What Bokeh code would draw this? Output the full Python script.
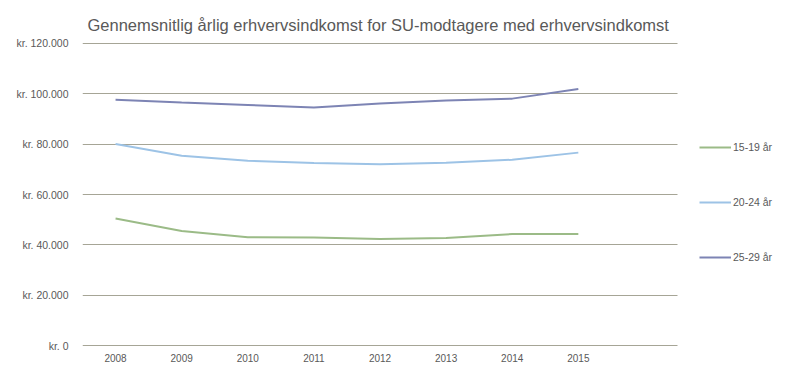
from bokeh.plotting import figure
from bokeh.models import ColumnDataSource, FixedTicker, Legend, LegendItem, Range1d
from bokeh.embed import file_html
from bokeh.resources import INLINE

years = [2008, 2009, 2010, 2011, 2012, 2013, 2014, 2015]
s_15_19 = [50500, 45500, 43100, 43000, 42400, 42800, 44300, 44300]
s_20_24 = [80000, 75400, 73400, 72500, 72000, 72600, 73800, 76600]
s_25_29 = [97600, 96500, 95500, 94500, 96100, 97300, 98000, 101800]
series_names = ["15-19 år", "20-24 år", "25-29 år"]
y_ticks = [0, 20000, 40000, 60000, 80000, 100000, 120000]
y_tick_labels = ["kr. 0", "kr. 20.000", "kr. 40.000", "kr. 60.000", "kr. 80.000", "kr. 100.000", "kr. 120.000"]
title_text = "Gennemsnitlig årlig erhvervsindkomst for SU-modtagere med erhvervsindkomst"

colors = ["#9BBB87", "#9DC3E6", "#7D84B4"]
FONT = "Liberation Sans"
TEXT = "#595959"
GRID = "#A6A596"

# plot area spans 9 year-slots (2008..2016); extra room on the right holds the legend
x_start, x_grid_end = 2007.5, 2016.5
x_end = x_start + 9 * 706 / 595

p = figure(frame_width=706, frame_height=304, output_backend="svg", toolbar_location=None,
           x_range=Range1d(x_start, x_end), y_range=Range1d(-250, 120250),
           min_border_left=82, min_border_right=4, min_border_top=42, min_border_bottom=30)
p.outline_line_color = None
p.background_fill_color = "white"
p.border_fill_color = "white"

p.title.text = title_text
p.title.align = "left"
p.title.text_font = FONT
p.title.text_font_size = "16.5px"
p.title.text_font_style = "normal"
p.title.text_color = TEXT
p.title.offset = 5
p.title.standoff = 18

p.xaxis.ticker = FixedTicker(ticks=years)
p.yaxis.ticker = FixedTicker(ticks=y_ticks)
p.yaxis.major_label_overrides = {t: l for t, l in zip(y_ticks, y_tick_labels)}
for ax in (p.xaxis, p.yaxis):
    ax.axis_line_color = None
    ax.major_tick_line_color = None
    ax.minor_tick_line_color = None
    ax.major_label_text_font = FONT
    ax.major_label_text_color = TEXT
p.yaxis.major_label_standoff = 8
p.xaxis.major_label_standoff = 1
p.yaxis.major_label_text_font_size = "10.5px"
p.xaxis.major_label_text_font_size = "10px"
p.xgrid.grid_line_color = None
p.ygrid.grid_line_color = GRID
p.ygrid.grid_line_width = 1
p.ygrid.cross_bounds = (x_start, x_grid_end)

items = []
for name, vals, c in zip(series_names, [s_15_19, s_20_24, s_25_29], colors):
    src = ColumnDataSource(dict(x=years, y=vals))
    r = p.line("x", "y", source=src, line_color=c, line_width=2)
    items.append(LegendItem(label=name, renderers=[r]))

legend = Legend(items=items, location=(617, 79), orientation="vertical",
                padding=0, margin=0, spacing=35, glyph_width=32, glyph_height=20,
                label_height=20, label_standoff=2, border_line_color=None,
                background_fill_alpha=0, label_text_font=FONT,
                label_text_font_size="10.5px", label_text_color=TEXT)
p.add_layout(legend, "center")

open("out.html", "w").write(file_html(p, INLINE))
